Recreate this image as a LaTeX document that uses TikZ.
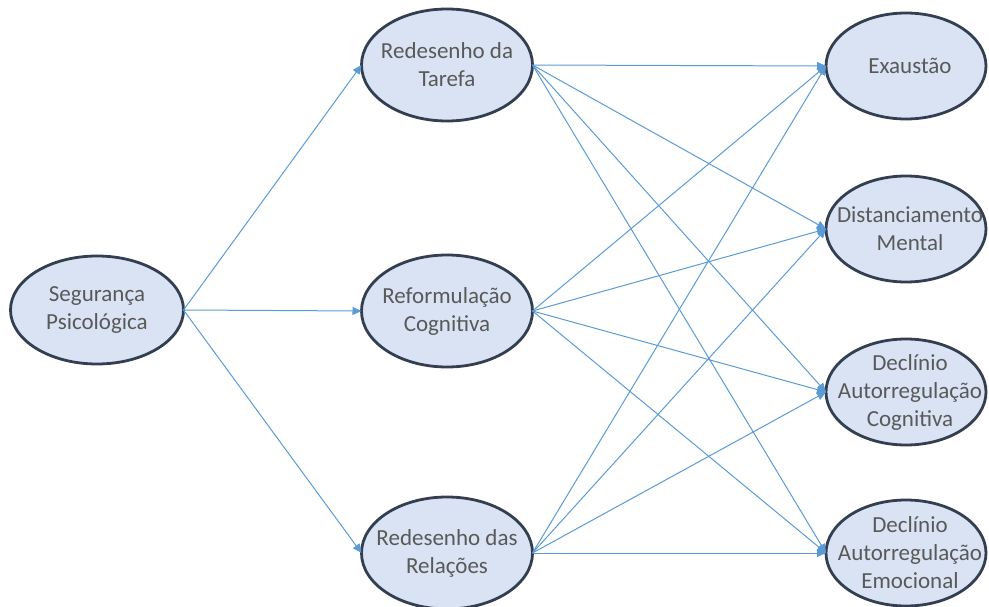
\documentclass[tikz,border=0pt]{standalone}
\usepackage{fontspec}
\setmainfont{Carlito}
\usetikzlibrary{shapes.geometric,arrows.meta}
\definecolor{nodefill}{HTML}{DAE3F3}
\definecolor{nodeline}{HTML}{333F50}
\definecolor{nodetext}{HTML}{595959}
\definecolor{linkblue}{HTML}{5B9BD5}
\tikzset{
  construct/.style={ellipse, draw=nodeline, fill=nodefill, line width=2.8pt,
    inner sep=0pt, outer sep=0pt},
  caption/.style={align=center, text=nodetext, inner sep=0pt,
    font=\fontsize{23}{28}\selectfont},
  midbox/.style={construct, minimum width=171pt, minimum height=112pt},
  outbox/.style={construct, minimum width=160pt, minimum height=106pt},
  srcbox/.style={construct, minimum width=173pt, minimum height=108pt},
  link/.style={draw=linkblue, line width=1pt,
    -{Triangle[length=9pt,width=8pt]}}
}
\begin{document}
\begin{tikzpicture}[x=1pt,y=-1pt]
\useasboundingbox (0,0) rectangle (989,607);

% predictor
\node[srcbox] (seg) at (97,310) {};
\node[caption] (segtxt) at (seg.center) {Segurança\\Psicológica};

% mediators
\node[midbox] (tar) at (447,65) {};
\node[caption] (tartxt) at (tar.center) {Redesenho da\\Tarefa};
\node[midbox] (ref) at (447,311) {};
\node[caption] (reftxt) at (ref.center) {Reformulação\\Cognitiva};
\node[midbox] (rel) at (447,553) {};
\node[caption] (reltxt) at (rel.center) {Redesenho das\\Relações};

% outcomes
\node[outbox] (exa) at (906,66) {};
\node[caption] (exatxt) at ([xshift=4pt]exa.center) {Exaustão};
\node[outbox] (dis) at (906,229) {};
\node[caption] (distxt) at ([xshift=4pt]dis.center) {Distanciamento\\Mental};
\node[outbox] (dac) at (906,392) {};
\node[caption] (dactxt) at ([xshift=4pt]dac.center) {Declínio\\Autorregulação\\Cognitiva};
\node[outbox] (dae) at (906,553) {};
\node[caption] (daetxt) at ([xshift=4pt]dae.center) {Declínio\\Autorregulação\\Emocional};

% paths from the predictor
\foreach \m in {tar,ref,rel}
  \draw[link] (seg.east) -- (\m.west);

% paths from each mediator to each outcome
\foreach \m in {tar,ref,rel}
  \foreach \o in {exa,dis,dac,dae}
    \draw[link] (\m.east) -- (\o.west);
\end{tikzpicture}
\end{document}
